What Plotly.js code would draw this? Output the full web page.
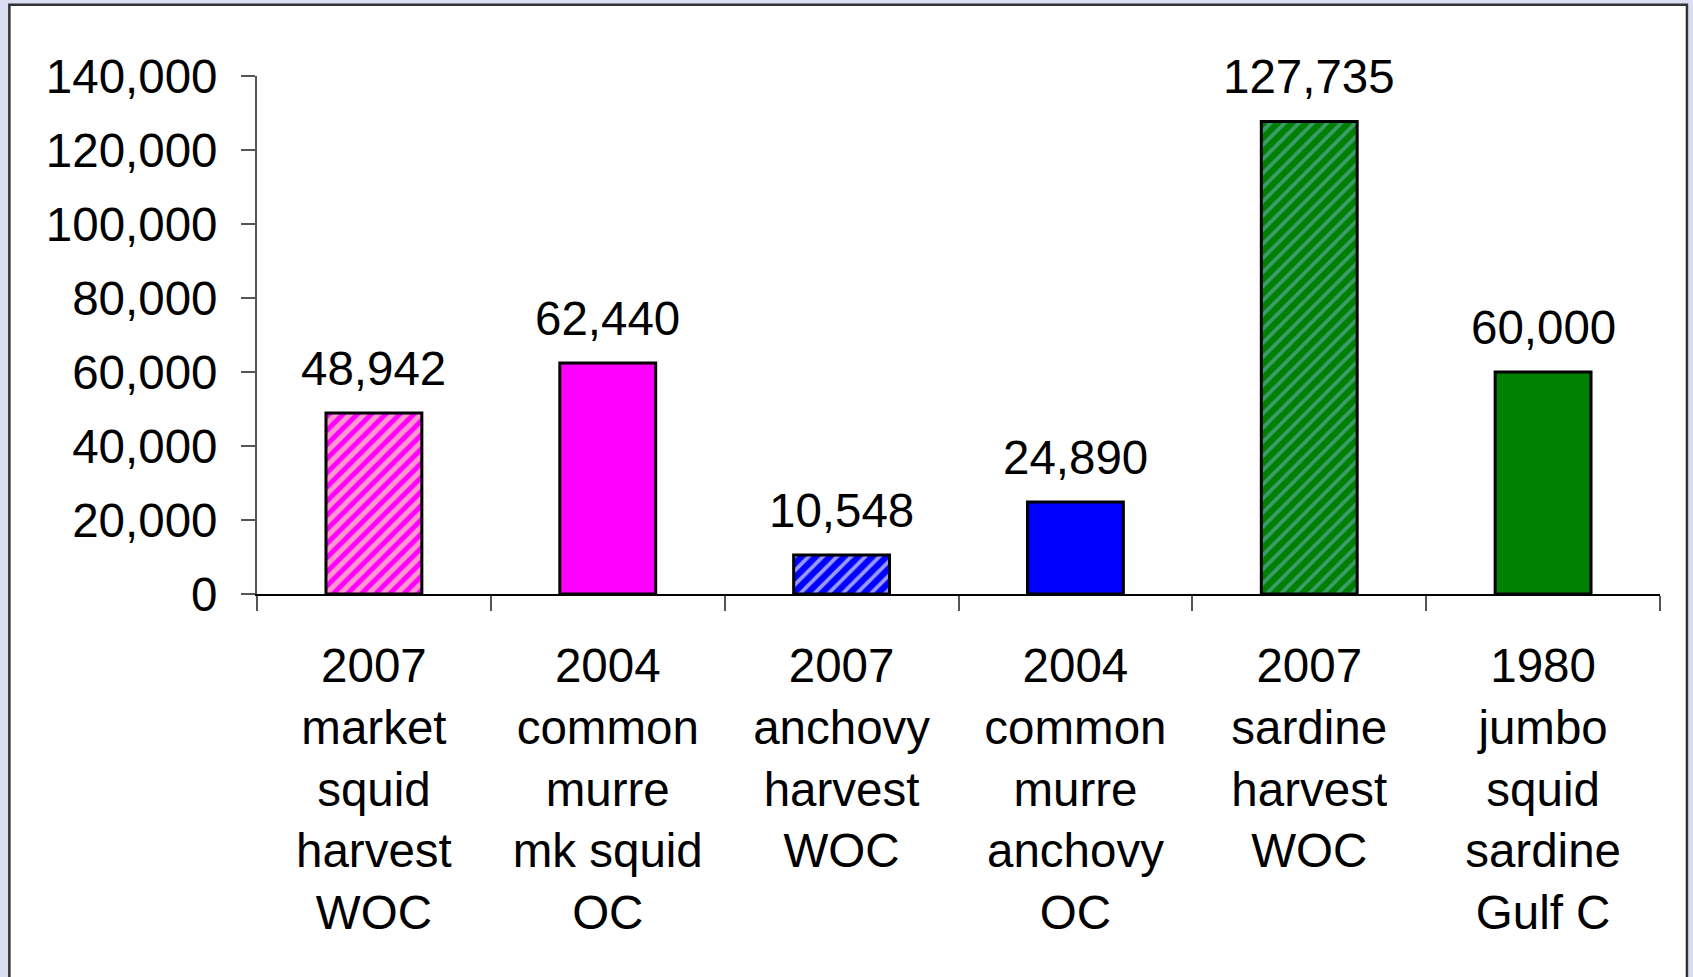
<!DOCTYPE html>
<html>
<head>
<meta charset="utf-8">
<script src="https://cdn.plot.ly/plotly-3.0.1.min.js"></script>
<style>
  html, body { margin: 0; padding: 0; background: #dcdcf2; }
  #chart { width: 1693px; height: 977px; }
</style>
</head>
<body>
<div id="chart"></div>
<script>
// ---- data ----
const categories = [
  '2007<br>market<br>squid<br>harvest<br>WOC',
  '2004<br>common<br>murre<br>mk squid<br>OC',
  '2007<br>anchovy<br>harvest<br>WOC',
  '2004<br>common<br>murre<br>anchovy<br>OC',
  '2007<br>sardine<br>harvest<br>WOC',
  '1980<br>jumbo<br>squid<br>sardine<br>Gulf C'
];
const values = [48942, 62440, 10548, 24890, 127735, 60000];
const tickValues = [0, 20000, 40000, 60000, 80000, 100000, 120000, 140000];
const tickLabels = ['0', '20,000', '40,000', '60,000', '80,000', '100,000', '120,000', '140,000'];

// ---- styles ----
const barColors   = ['#ff99cc', '#ff00ff', '#0000ff', '#0000ff', '#008000', '#008000'];
const hatched     = [true, false, true, false, true, false];
const hatchFg     = ['#ff00ff', null, '#9999ff', null, '#3d9c6b', null];
const hatchSolid  = [0.5, 0, 0.38, 0, 0.38, 0];

const font = 'Liberation Sans, Arial, sans-serif';
const fs = 47.5;

const traces = categories.map((c, i) => {
  const marker = {
    color: barColors[i],
    line: { color: '#000000', width: 3 }
  };
  if (hatched[i]) {
    marker.pattern = {
      shape: '/',
      bgcolor: barColors[i],
      fgcolor: hatchFg[i],
      fgopacity: 1,
      size: 10,
      solidity: hatchSolid[i],
      fillmode: 'replace'
    };
  }
  return {
    type: 'bar',
    x: [c],
    y: [values[i]],
    marker: marker,
    hoverinfo: 'none'
  };
});

const annotations = categories.map((c, i) => ({
  x: c,
  y: values[i],
  xref: 'x',
  yref: 'y',
  text: values[i].toLocaleString('en-US'),
  showarrow: false,
  yanchor: 'bottom',
  yshift: 16,
  font: { family: font, size: fs, color: '#000000' }
}));

const layout = {
  width: 1693,
  height: 977,
  paper_bgcolor: '#dcdcf2',
  plot_bgcolor: 'rgba(0,0,0,0)',
  margin: { l: 257, r: 33, t: 76, b: 383, pad: 0 },
  showlegend: false,
  barmode: 'overlay',
  bargap: 0.59,
  font: { family: font, size: fs, color: '#000000' },
  xaxis: {
    type: 'category',
    categoryorder: 'array',
    categoryarray: categories,
    showgrid: false,
    showline: true,
    linecolor: '#000000',
    linewidth: 2,
    ticks: 'outside',
    tickson: 'boundaries',
    ticklen: 15,
    tickcolor: '#555555',
    tickwidth: 2,
    tickfont: { family: font, size: fs, color: '#000000' },
    ticklabelstandoff: 29,
    zeroline: false,
    fixedrange: true
  },
  yaxis: {
    range: [0, 140000],
    tickmode: 'array',
    tickvals: tickValues,
    ticktext: tickLabels,
    showgrid: false,
    showline: true,
    linecolor: '#555555',
    linewidth: 2,
    ticks: 'outside',
    ticklen: 14,
    tickcolor: '#555555',
    tickwidth: 2,
    tickfont: { family: font, size: fs, color: '#000000' },
    ticklabelstandoff: 14,
    zeroline: false,
    fixedrange: true
  },
  shapes: [{
    type: 'rect',
    xref: 'paper', yref: 'paper',
    x0: -0.1765, x1: 1.0192,
    y0: -0.78, y1: 1.1375,
    fillcolor: '#ffffff',
    line: { color: '#333333', width: 2.5 },
    layer: 'below'
  }],
  annotations: annotations
};

Plotly.newPlot('chart', traces, layout, { displayModeBar: false, staticPlot: true });
</script>
</body>
</html>
